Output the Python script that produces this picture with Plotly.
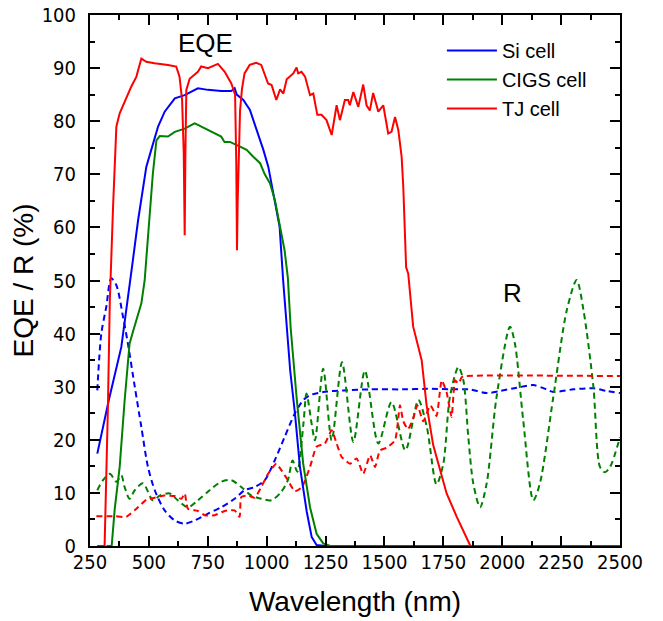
import plotly.graph_objects as go

# ---- EQE data (solid lines) ----
si_wl = [281, 330, 383, 411, 432, 454, 475, 489, 510, 539, 567, 610, 652, 708, 751, 807, 850, 864, 873, 901,
         929, 958, 986, 1007, 1021, 1035, 1055, 1070, 1085, 1100, 1120, 1141, 1170, 1191, 1212, 1250]
si_eqe = [17.4, 27.5, 37.5, 46.3, 53.8, 61.3, 67.5, 71.4, 74.6, 79.0, 81.8, 84.3, 84.9, 86.2, 85.9, 85.7, 85.7, 86.2, 85.0, 84.0,
          82.1, 78.3, 74.6, 71.4, 68.3, 64.5, 60.1, 50.0, 41.0, 33.0, 25.0, 15.0, 6.5, 1.7, 0.2, 0.0]

cigs_wl = [320, 342, 355, 376, 397, 418, 432, 468, 482, 496, 517, 532, 546, 581, 610, 652, 694, 708, 751, 786,
           807, 821, 844, 887, 915, 943, 972, 992, 1014, 1035, 1049, 1062, 1076, 1090, 1102, 1127, 1155, 1184, 1212, 1240,
           1270, 1870]
cigs_eqe = [0, 0, 7, 14.9, 27.4, 38.1, 40.3, 45.7, 50, 57.6, 70.2, 76.4, 77.2, 77.1, 78.0, 78.6, 79.6, 79.3, 78.3, 77.5,
            77.1, 76.1, 76.1, 75.2, 74.6, 73.3, 72.1, 70.0, 68.3, 65.1, 62.0, 59.0, 55.7, 50.5, 41.0, 28.0, 15.5, 7.3, 2.3, 0.5,
            0, 0]

tj_wl = [280, 312, 326, 334, 348, 362, 376, 400, 425, 447, 468, 489, 524, 581, 616, 630, 641, 648, 652, 655,
         659, 673, 708, 722, 751, 793, 822, 850, 866, 871, 874, 877, 881, 887, 895, 906, 928, 956, 977, 1006,
         1021, 1041, 1057, 1071, 1085, 1113, 1127, 1134, 1148, 1163, 1184, 1198, 1215, 1233, 1254, 1276, 1297, 1311, 1332, 1346,
         1353, 1368, 1389, 1410, 1424, 1438, 1452, 1474, 1495, 1516, 1530, 1545, 1559, 1573, 1580, 1587, 1592, 1601, 1622, 1658,
         1679, 1707, 1736, 1764, 1807, 1849, 1865, 2500]
tj_eqe = [0, 0, 26, 46, 64, 79, 81.5, 84, 86.5, 88.4, 91.8, 91.2, 90.9, 90.6, 90.3, 88.4, 84, 74, 58.5, 74,
          85.9, 88, 89.3, 90.3, 90, 90.8, 89.3, 87.1, 85, 72, 55.7, 65, 75, 82, 86, 89, 90.6, 91, 90.6, 87.1,
          86.8, 84, 86, 85.2, 87.9, 89, 90.1, 89, 89.3, 88.4, 84.9, 85.2, 81.2, 81.2, 80.2, 77.4, 83, 80.2, 84, 84,
          83, 85.5, 82.7, 86.9, 83, 82, 85.3, 81.8, 83, 77.7, 78, 80.8, 78.3, 73.3, 67.6, 60, 52.5, 51.3, 41.3, 35,
          26.5, 19, 14.3, 9.9, 5.5, 1.7, 0, 0]

# ---- Reflectance data (dashed lines) ----
si_r_wl = [281, 298, 319, 340, 362, 390, 411, 440, 468, 496, 525, 567, 610, 652, 694, 751, 807, 864, 906, 949,
           992, 1034, 1076, 1119, 1156, 1184, 1240, 1325, 1439, 1580, 1679, 1821, 1863, 1934, 1990, 2061, 2132, 2188, 2217, 2302,
           2387, 2443, 2500]
si_r = [29.3, 40, 45, 50.4, 49.1, 43.2, 38.1, 30, 22.4, 14.9, 10.5, 6.7, 4.8, 4.2, 4.8, 6.1, 7.3, 8.9, 10.5, 11.1,
        12.4, 16.1, 20.5, 24.9, 27.5, 28.4, 29, 29.3, 29.5, 29.5, 29.6, 29.5, 29.5, 28.8, 29.2, 29.8, 30.3, 29.5, 29, 29.5,
        29.7, 29.2, 28.8]

cigs_r_wl = [281, 305, 334, 362, 383, 397, 418, 440, 475, 517, 546, 588, 623, 666, 708, 758, 807, 850, 892, 935,
             977, 1020, 1062, 1090, 1110, 1130, 1156, 1169, 1191, 1205, 1240, 1276, 1320, 1368, 1417, 1474, 1530, 1589, 1644, 1680,
             1721, 1750, 1778, 1814, 1835, 1856, 1877, 1906, 1934, 1976, 2033, 2054, 2089, 2132, 2160, 2217, 2274, 2316, 2345, 2387,
             2415, 2436, 2458, 2500]
cigs_r = [10.5, 12.4, 13.6, 12.1, 13.3, 11.1, 8.9, 10.5, 11.8, 8.6, 9.5, 9.9, 8.6, 7.3, 8.6, 10.5, 12.1, 12.4, 11.1, 9.5,
          8.9, 8.6, 10.2, 12.4, 16.1, 14.0, 23.0, 28.7, 23.0, 19.9, 33.4, 19.9, 34.6, 19.6, 33.0, 19.3, 27.1, 18.0, 27.5, 22.4,
          11.6, 15.5, 28.1, 33.7, 31.2, 20.5, 11.8, 7.3, 11.8, 28.1, 41.3, 38.1, 23.7, 8.6, 11.8, 28.1, 44.4, 50.1, 44.4, 30.0,
          14.9, 13.9, 14.9, 20.5]

tj_r_wl = [277, 355, 404, 454, 489, 525, 567, 610, 638, 652, 666, 708, 737, 779, 822, 864, 885, 892, 921, 949,
           977, 1006, 1041, 1062, 1090, 1120, 1150, 1184, 1212, 1247, 1276, 1297, 1318, 1354, 1382, 1410, 1439, 1460, 1481, 1510,
           1545, 1566, 1580, 1600, 1622, 1640, 1665, 1695, 1721, 1743, 1764, 1785, 1800, 1814, 1828, 1840, 2500]
tj_r = [5.6, 5.6, 5.5, 7.3, 8.7, 9.1, 9.5, 9.4, 8.9, 9.9, 7.0, 6.6, 5.8, 5.8, 6.6, 6.7, 5.5, 9.2, 9.5, 9.1,
        11.1, 13.6, 15.5, 14.3, 12.4, 10.3, 11.1, 14.9, 18.7, 19.3, 21.8, 19.3, 16.8, 15.5, 16.5, 13.6, 17.1, 14.9, 18.0, 18.5,
        19.9, 26.5, 23.5, 22.0, 24.0, 26.5, 23.5, 26.5, 24.5, 31.2, 28.9, 24.3, 31.2, 30.6, 31.8, 32.0, 32.0]

x_ticks = [250, 500, 750, 1000, 1250, 1500, 1750, 2000, 2250, 2500]
y_ticks = [0, 10, 20, 30, 40, 50, 60, 70, 80, 90, 100]

BLUE, GREEN, RED = "#0000FF", "#008000", "#FF0000"
DASH = "6px,4px"

fig = go.Figure()
# reflectance (dashed)
fig.add_trace(go.Scatter(x=si_r_wl, y=si_r, mode="lines", showlegend=False,
                         line=dict(color=BLUE, width=2, dash=DASH, shape="spline", smoothing=0.8)))
fig.add_trace(go.Scatter(x=cigs_r_wl, y=cigs_r, mode="lines", showlegend=False,
                         line=dict(color=GREEN, width=2, dash=DASH, shape="spline", smoothing=0.8)))
fig.add_trace(go.Scatter(x=tj_r_wl, y=tj_r, mode="lines", showlegend=False,
                         line=dict(color=RED, width=2, dash=DASH, shape="spline", smoothing=0.5)))
# EQE (solid)
fig.add_trace(go.Scatter(x=si_wl, y=si_eqe, mode="lines", name="Si cell",
                         line=dict(color=BLUE, width=2)))
fig.add_trace(go.Scatter(x=cigs_wl, y=cigs_eqe, mode="lines", name="CIGS cell",
                         line=dict(color=GREEN, width=2)))
fig.add_trace(go.Scatter(x=tj_wl, y=tj_eqe, mode="lines", name="TJ cell",
                         line=dict(color=RED, width=2)))

TICKFONT = dict(family="Liberation Sans Narrow, Arial Narrow, DejaVu Sans Condensed, sans-serif", size=20, color="black")
TITLEFONT = dict(family="Liberation Sans, Arial, sans-serif", size=28, color="black")

axis_common = dict(showline=True, linecolor="black", linewidth=2, mirror="allticks",
                   ticks="inside", ticklen=10, tickwidth=2, tickcolor="black",
                   showgrid=False, zeroline=False, tickfont=TICKFONT, automargin=False,
                   ticklabeloverflow="allow")

fig.update_xaxes(range=[250, 2500], tickvals=x_ticks, ticktext=[str(v) for v in x_ticks],
                 minor=dict(ticks="inside", ticklen=5, tickwidth=2, tickcolor="black", dtick=125, tick0=250, showgrid=False),
                 title=dict(text="Wavelength (nm)", font=TITLEFONT, standoff=18),
                 ticklabelstandoff=-3,
                 **axis_common)
fig.update_yaxes(range=[0, 100], tickvals=y_ticks, ticktext=[str(v) for v in y_ticks],
                 minor=dict(ticks="inside", ticklen=5, tickwidth=2, tickcolor="black", dtick=5, tick0=0, showgrid=False),
                 title=dict(text="EQE / R (%)", font=TITLEFONT, standoff=0),
                 ticklabelstandoff=8,
                 **axis_common)

fig.add_annotation(x=742, y=94.8, text="EQE", showarrow=False,
                   font=dict(family="Liberation Sans, Arial, sans-serif", size=26, color="black"))
fig.add_annotation(x=2043, y=47.6, text="R", showarrow=False,
                   font=dict(family="Liberation Sans, Arial, sans-serif", size=26, color="black"))

fig.update_layout(
    width=663, height=621,
    margin=dict(l=90, r=43, t=15, b=75, autoexpand=False),
    paper_bgcolor="white", plot_bgcolor="white",
    legend=dict(x=0.664, y=0.970, xanchor="left", yanchor="top", bgcolor="rgba(0,0,0,0)",
                font=dict(family="Liberation Sans, Arial, sans-serif", size=20, color="black"),
                itemwidth=50, tracegroupgap=0),
    showlegend=True,
)

fig.write_html("out.html", config={"displayModeBar": False},
               post_script="document.body.style.margin='0px';")
